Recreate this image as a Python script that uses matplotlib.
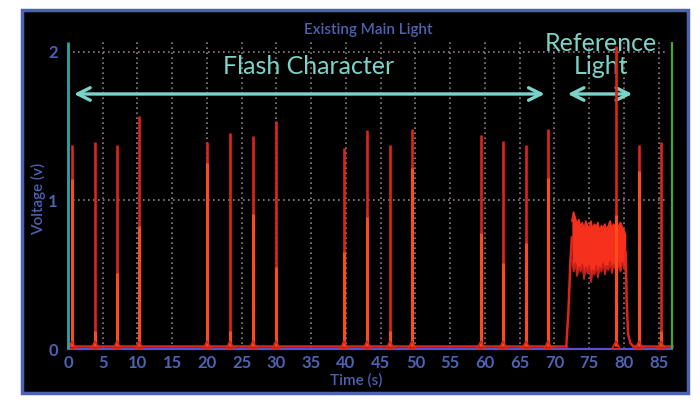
import matplotlib
matplotlib.use('Agg')
import matplotlib.pyplot as plt
from matplotlib.patches import Rectangle

# # Data

# flash spikes (time in s, peak voltage)
spike_t = [0.6, 3.9, 7.05, 10.2, 20.0, 23.3, 26.6, 29.9, 39.7, 43.0, 46.3, 49.5,
           59.4, 62.6, 65.9, 69.1, 78.8, 82.2, 85.3]
spike_v = [1.37, 1.39, 1.37, 1.57, 1.39, 1.45, 1.43, 1.53, 1.35, 1.47, 1.37, 1.48,
           1.44, 1.40, 1.37, 1.48, 2.04, 1.37, 1.39]
# brighter second trace inside each spike
spike_v2 = [1.14, 0.12, 0.51, 0.83, 1.25, 0.12, 0.91, 0.55, 0.65, 0.89, 0.12, 1.22,
            0.78, 0.58, 0.71, 1.15, 0.90, 1.20, 0.12]

# reference light block (noisy plateau)
ref_t = [72.5, 72.75, 73.0, 73.25, 73.5, 73.75, 74.0, 74.25, 74.5, 74.75, 75.0, 75.25,
         75.5, 75.75, 76.0, 76.25, 76.5, 76.75, 77.0, 77.25, 77.5, 77.75, 78.0, 78.25,
         78.5, 78.75, 79.0, 79.25, 79.5, 79.75, 80.0, 80.25]
ref_hi = [0.86, 0.92, 0.88, 0.84, 0.87, 0.82, 0.85, 0.80, 0.86, 0.83, 0.81, 0.86,
          0.80, 0.84, 0.82, 0.85, 0.79, 0.83, 0.81, 0.84, 0.80, 0.83, 0.86, 0.81,
          0.84, 0.82, 0.80, 0.83, 0.85, 0.82, 0.80, 0.76]
ref_lo = [0.60, 0.52, 0.58, 0.49, 0.55, 0.52, 0.57, 0.47, 0.55, 0.51, 0.56, 0.45,
          0.53, 0.50, 0.56, 0.48, 0.55, 0.52, 0.58, 0.50, 0.56, 0.53, 0.59, 0.51,
          0.57, 0.54, 0.60, 0.55, 0.52, 0.58, 0.55, 0.52]
rise_t = [71.7, 72.0, 72.3, 72.5]
rise_v = [0.02, 0.25, 0.60, 0.75]
fall_t = [80.25, 80.4, 80.6, 80.9, 81.3]
fall_v = [0.65, 0.30, 0.10, 0.04, 0.02]

x_ticks = list(range(0, 90, 5))
y_ticks = [0, 1, 2]
t_end = 86.9

BLUE = '#4d62b3'
CYAN = '#7ad4c9'
RED = '#e0231b'
ORANGE = '#ff4a1e'

plt.rcParams['font.family'] = ['Lato', 'DejaVu Sans']

fig = plt.figure(figsize=(7, 4.05), dpi=100)
fig.patch.set_facecolor('white')
fig.patches.append(Rectangle((22 / 700, 12 / 405), 666 / 700, 383 / 405,
                             transform=fig.transFigure, facecolor='black',
                             edgecolor=BLUE, linewidth=2.5, zorder=-1))

ax = fig.add_axes([62 / 700, 51 / 405, 618 / 700, 314 / 405])
ax.set_zorder(2)
ax.set_facecolor('none')
ax.set_xlim(-0.863, 88.06)
ax.set_ylim(-0.0336, 2.078)
for s in ax.spines.values():
    s.set_visible(False)

# dotted grid
ax.vlines(x_ticks[1:], 0, 2.065, colors='#8e7d86', linestyles=(0, (1, 2)), linewidth=1.2, zorder=1)
ax.hlines([1, 2], 0, 86, colors='#8e7d86', linestyles=(0, (1, 2)), linewidth=1.2, zorder=1)

# baselines
ax.plot([0, t_end], [0, 0], color='#5a4fd0', lw=1.6, zorder=2)
ax.plot([0, rise_t[0]], [0.018, 0.018], color=RED, lw=1.8, zorder=3)
ax.plot([fall_t[-1], t_end], [0.018, 0.018], color=RED, lw=1.8, zorder=3)

# spikes
ax.vlines(spike_t, 0.018, spike_v, colors=RED, lw=1.9, zorder=4)
ax.vlines(spike_t, 0.018, spike_v2, colors=ORANGE, lw=2.2, zorder=4)
ax.plot(spike_t, [0.03] * len(spike_t), ls='none', marker='^', ms=6,
        mfc='none', mec=RED, mew=1.2, zorder=4)

# reference light
ax.fill_between(ref_t, ref_lo, ref_hi, color='#f5301c', lw=0, zorder=3)
ax.plot(ref_t, ref_hi, color='#f5301c', lw=1.2, zorder=3)
ax.plot(ref_t, ref_lo, color='#c8201a', lw=1.2, zorder=3)
ax.plot(rise_t, rise_v, color=RED, lw=1.8, zorder=3)
ax.plot(fall_t, fall_v, color=RED, lw=1.8, zorder=3)

# markers at start / end
ax.vlines([0], 0, 2.065, colors='#2aa6a6', lw=2.0, zorder=5)
ax.vlines([t_end], 0, 2.065, colors='#3daa3d', lw=1.6, zorder=5)

# annotations
ax.annotate('', xy=(0.86, 1.715), xytext=(68.6, 1.715),
            arrowprops=dict(arrowstyle='<->,head_length=0.9,head_width=0.45',
                            color=CYAN, lw=2.4, shrinkA=0, shrinkB=0))
ax.annotate('', xy=(71.9, 1.715), xytext=(81.2, 1.715),
            arrowprops=dict(arrowstyle='<->,head_length=0.9,head_width=0.45',
                            color=CYAN, lw=2.4, shrinkA=0, shrinkB=0))
ax.text(34.6, 1.90, 'Flash Character', color=CYAN, fontsize=18,
        ha='center', va='center')
ax.text(76.7, 1.98, 'Reference\nLight', color=CYAN, fontsize=18,
        ha='center', va='center', linespacing=1.0, clip_on=False)

# ticks and labels
ax.set_xticks(x_ticks)
ax.set_yticks(y_ticks)
ax.tick_params(length=0, colors=BLUE, labelsize=12)
ax.tick_params(axis='x', pad=1)
ax.tick_params(axis='y', pad=3)
for lab in ax.get_xticklabels() + ax.get_yticklabels():
    lab.set_fontweight('bold')
fig.text(368 / 700, 1 - 30 / 405, 'Existing Main Light', color=BLUE,
         fontsize=11, ha='center', va='center', fontweight='semibold')
fig.text(356 / 700, 1 - 380 / 405, 'Time (s)', color=BLUE,
         fontsize=11, ha='center', va='center', fontweight='semibold')
fig.text(38 / 700, 1 - 199 / 405, 'Voltage (v)', color=BLUE, rotation=90,
         fontsize=11, ha='center', va='center', fontweight='semibold')

plt.savefig('out.png', dpi=100)
